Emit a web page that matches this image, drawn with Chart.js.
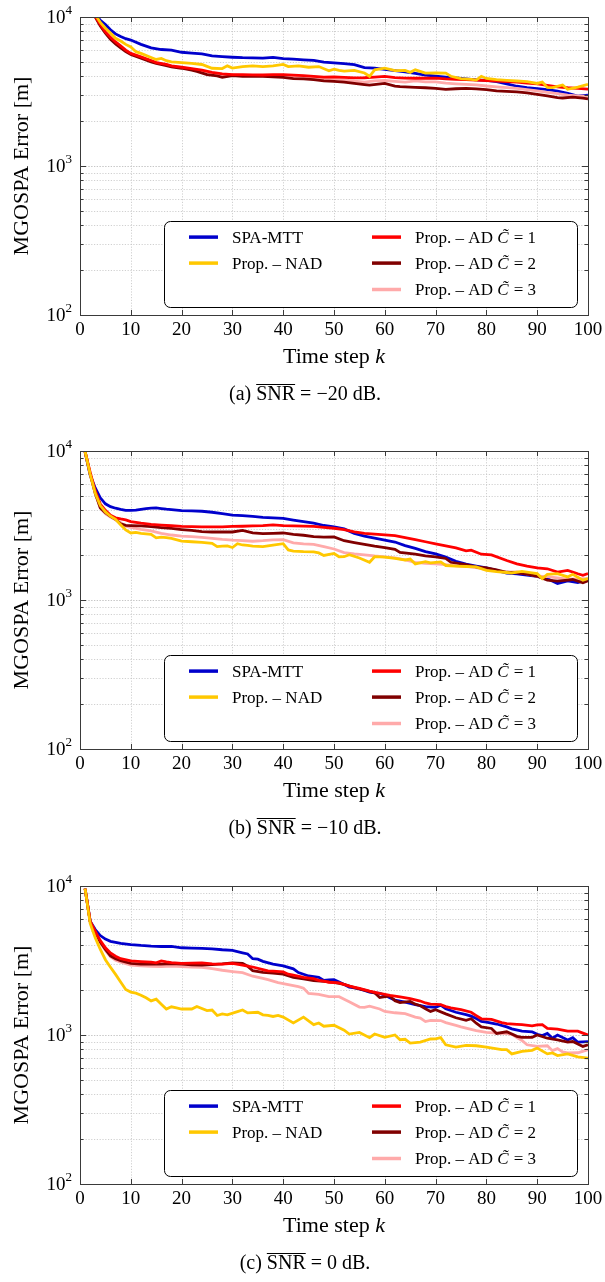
<!DOCTYPE html>
<html>
<head>
<meta charset="utf-8">
<script src="https://cdn.jsdelivr.net/npm/chart.js@4.4.1/dist/chart.umd.min.js"></script>
<style>
  html, body { margin: 0; padding: 0; background: #fff; }
  body { width: 605px; height: 1282px; position: relative; overflow: hidden; }
  canvas { position: absolute; left: 0; }
</style>
</head>
<body>
<canvas id="panelA" width="605" height="435" style="top:0px"></canvas>
<canvas id="panelB" width="605" height="435" style="top:434px"></canvas>
<canvas id="panelC" width="605" height="435" style="top:869px"></canvas>
<script>
// ---- axes / labels ----
const xTicks = [0, 10, 20, 30, 40, 50, 60, 70, 80, 90, 100];
const yDecades = [2, 3, 4];          // 10^2 .. 10^4
const seriesNames = ['SPA-MTT', 'Prop. \u2013 NAD', 'Prop. \u2013 AD', 'Prop. \u2013 AD', 'Prop. \u2013 AD'];
const seriesCval = [null, null, 1, 2, 3];
const seriesColors = ['#0000cc', '#ffc800', '#ff0000', '#800000', '#ffaaaa'];
const seriesOrder = [4, 0, 1, 2, 3]; // lower order drawn on top
const panelLetters = ['a', 'b', 'c'];
const panelSnr = ['\u221220', '\u221210', '0'];

// ---- panel (a): SNR = -20 dB, [k, error] ----
const A_SPA = [[1,16000],[2,13000],[3,10500],[4,9500],[5,8900],[6,8200],[7,7700],[8,7400],[9,7150],[10,7000],[12,6550],[14,6200],[16,6050],[18,6000],[20,5800],[22,5720],[24,5650],[26,5480],[28,5420],[30,5370],[32,5330],[34,5310],[36,5290],[38,5350],[40,5250],[42,5210],[44,5160],[46,5110],[48,4985],[50,4920],[52,4860],[54,4790],[56,4580],[58,4540],[60,4450],[62,4360],[64,4280],[66,4180],[68,4080],[70,4010],[72,3950],[74,3900],[76,3840],[78,3790],[80,3750],[82,3680],[84,3560],[86,3430],[88,3360],[90,3310],[92,3250],[94,3180],[96,3070],[98,2940],[100,2990]];
const A_NAD = [[1,16000],[2,13000],[3,10400],[4,9200],[5,8400],[6,7800],[7,7200],[8,6900],[9,6550],[10,6300],[11,5850],[12,5700],[14,5350],[15,5190],[16,5270],[17,5090],[18,5000],[20,4940],[22,4880],[24,4800],[26,4530],[28,4510],[29,4700],[30,4540],[32,4640],[34,4700],[36,4650],[38,4700],[40,4810],[41,4650],[43,4700],[45,4600],[47,4650],[49,4360],[50,4470],[51,4380],[52,4330],[54,4380],[56,4210],[57,4000],[58,4420],[60,4530],[62,4360],[64,4380],[65,4250],[66,4420],[68,4200],[70,4210],[72,4200],[73,4000],[75,3860],[77,3810],[78,3770],[79,4000],[80,3870],[82,3800],[84,3760],[86,3720],[88,3680],[90,3580],[91,3660],[92,3370],[93,3360],[95,3500],[96,3270],[98,3380],[100,3530]];
const A_AD1 = [[1,16000],[2,12500],[3,10100],[4,8900],[5,7950],[6,7300],[7,6800],[8,6400],[9,6000],[10,5700],[12,5400],[14,5100],[15,4940],[17,4815],[18,4700],[20,4600],[22,4500],[24,4400],[26,4250],[28,4150],[30,4100],[32,4100],[34,4090],[36,4080],[38,4100],[40,4100],[42,4070],[44,4040],[46,4000],[48,3950],[50,3960],[52,3930],[54,3900],[56,3910],[58,3950],[60,4000],[62,3920],[64,3890],[66,3880],[68,3880],[70,3890],[72,3840],[74,3820],[76,3800],[78,3770],[80,3740],[82,3710],[84,3680],[86,3650],[88,3600],[90,3560],[92,3480],[94,3400],[96,3350],[98,3320],[100,3280]];
const A_AD2 = [[1,16000],[2,12500],[3,10000],[4,8700],[5,7800],[6,7100],[7,6600],[8,6200],[9,5850],[10,5600],[12,5300],[14,5000],[15,4880],[17,4720],[18,4620],[20,4530],[22,4400],[23,4310],[25,4100],[27,4020],[28,3940],[30,4040],[32,4000],[34,4000],[36,4000],[38,3970],[40,3940],[42,3860],[44,3840],[46,3800],[48,3730],[50,3700],[52,3650],[54,3580],[56,3520],[57,3495],[60,3580],[62,3440],[63,3410],[66,3375],[68,3350],[70,3320],[72,3270],[74,3300],[76,3320],[78,3290],[80,3260],[82,3190],[84,3170],[86,3145],[88,3100],[90,3030],[92,2960],[94,2880],[95,2860],[97,2900],[99,2850],[100,2820]];
const A_AD3 = [[1,16000],[2,12500],[3,10050],[4,8800],[5,7900],[6,7200],[7,6700],[8,6300],[9,5950],[10,5650],[12,5350],[14,5050],[16,4850],[18,4680],[20,4570],[22,4460],[24,4300],[26,4150],[28,4080],[30,4080],[32,4060],[34,4050],[36,4020],[38,4000],[40,4050],[42,3950],[44,3920],[46,3880],[48,3806],[50,3864],[52,3787],[54,3711],[56,3656],[58,3730],[60,3749],[62,3700],[64,3656],[66,3730],[68,3674],[70,3674],[72,3600],[74,3560],[76,3530],[78,3500],[80,3443],[82,3400],[84,3358],[86,3320],[88,3260],[90,3193],[92,3120],[94,3060],[96,2990],[98,2950],[100,2932]];

// ---- panel (b): SNR = -10 dB ----
const B_SPA = [[1,9800],[2,6900],[3,5650],[4,4850],[5,4420],[6,4230],[7,4130],[8,4060],[9,4000],[10,4000],[11,4010],[12,4060],[13,4110],[14,4130],[15,4150],[16,4110],[17,4070],[18,4040],[20,3985],[22,3960],[24,3940],[26,3880],[28,3800],[30,3714],[32,3680],[34,3640],[36,3590],[38,3560],[40,3530],[42,3440],[44,3360],[46,3275],[48,3162],[50,3100],[52,3000],[54,2800],[56,2680],[58,2600],[60,2520],[62,2450],[64,2320],[66,2220],[68,2110],[70,2040],[72,1940],[74,1820],[76,1740],[78,1690],[80,1645],[82,1580],[84,1515],[86,1495],[88,1470],[90,1443],[92,1390],[94,1292],[96,1345],[98,1310],[100,1372]];
const B_NAD = [[1,9900],[2,7000],[3,5200],[4,4300],[5,3900],[6,3650],[7,3480],[8,3200],[9,2950],[10,2817],[11,2845],[12,2800],[13,2780],[14,2760],[15,2612],[16,2640],[17,2620],[18,2590],[20,2484],[22,2460],[24,2440],[26,2400],[27,2280],[28,2300],[29,2303],[30,2250],[31,2386],[32,2340],[33,2327],[34,2300],[36,2280],[38,2339],[40,2386],[41,2169],[42,2130],[44,2110],[46,2104],[47,2070],[48,1990],[50,2052],[51,1950],[52,1952],[53,2012],[55,1913],[57,1791],[58,1952],[60,1940],[62,1900],[64,1856],[65,1884],[66,1747],[68,1809],[69,1773],[71,1800],[72,1704],[74,1690],[76,1678],[78,1670],[80,1580],[82,1550],[84,1530],[85,1518],[87,1556],[89,1520],[90,1503],[91,1393],[92,1488],[94,1503],[96,1429],[97,1488],[99,1359],[100,1393]];
const B_AD1 = [[1,9900],[2,7200],[3,5400],[4,4400],[5,4000],[6,3700],[7,3560],[8,3500],[9,3450],[10,3360],[12,3280],[14,3220],[16,3180],[18,3150],[20,3120],[22,3105],[24,3100],[26,3100],[28,3100],[30,3115],[32,3125],[34,3140],[36,3160],[38,3195],[40,3160],[42,3140],[44,3130],[46,3115],[48,3070],[50,3030],[52,2970],[54,2870],[56,2800],[58,2770],[60,2740],[62,2700],[64,2620],[66,2540],[68,2460],[70,2380],[72,2310],[74,2240],[76,2140],[77,2160],[79,2030],[81,2010],[84,1840],[86,1750],[88,1690],[90,1645],[92,1620],[94,1540],[96,1580],[98,1500],[99,1466],[100,1503]];
const B_AD2 = [[1,9900],[2,7000],[3,5200],[4,4150],[5,3850],[6,3650],[7,3480],[8,3250],[9,3170],[10,3160],[12,3140],[14,3110],[16,3060],[18,3020],[20,2970],[22,2930],[24,2880],[26,2860],[28,2860],[30,2860],[32,2930],[34,2817],[36,2790],[38,2800],[40,2817],[42,2760],[44,2720],[46,2665],[48,2640],[50,2650],[52,2500],[54,2430],[56,2360],[58,2300],[60,2250],[62,2190],[63,2083],[66,2032],[68,1980],[70,1950],[72,1900],[73,1791],[76,1730],[78,1670],[80,1640],[82,1590],[84,1535],[86,1520],[88,1490],[90,1443],[92,1359],[94,1340],[96,1360],[97,1372],[99,1305],[100,1345]];
const B_AD3 = [[1,9900],[2,7000],[3,5200],[4,4150],[5,3800],[6,3600],[7,3450],[8,3300],[9,3130],[10,3070],[12,2980],[14,2910],[16,2800],[18,2730],[20,2680],[22,2660],[24,2630],[26,2590],[28,2550],[30,2520],[32,2500],[34,2480],[36,2500],[38,2530],[40,2540],[42,2420],[44,2380],[46,2362],[48,2280],[50,2200],[52,2083],[54,2040],[56,2010],[58,1975],[60,1950],[62,1920],[64,1860],[66,1790],[68,1760],[70,1750],[72,1730],[74,1695],[76,1680],[78,1650],[80,1600],[82,1570],[84,1540],[86,1541],[88,1500],[90,1443],[92,1435],[94,1410],[96,1380],[98,1385],[100,1393]];

// ---- panel (c): SNR = 0 dB ----
const C_SPA = [[1,9600],[2,5800],[3,5100],[4,4650],[5,4400],[6,4250],[7,4190],[8,4120],[10,4045],[12,3990],[14,3950],[16,3926],[18,3930],[20,3850],[22,3830],[24,3809],[26,3790],[28,3733],[30,3696],[32,3560],[33,3500],[34,3250],[35,3227],[36,3120],[38,2990],[40,2910],[42,2780],[43,2626],[45,2490],[47,2440],[48,2327],[49,2340],[50,2350],[51,2269],[52,2180],[53,2094],[54,2070],[55,2042],[56,1990],[57,1941],[58,1920],[59,1903],[60,1850],[61,1780],[62,1715],[63,1690],[64,1660],[66,1600],[68,1550],[70,1532],[71,1587],[72,1500],[74,1421],[76,1370],[77,1338],[78,1290],[79,1234],[80,1220],[82,1185],[84,1134],[85,1100],[87,1062],[89,1051],[90,1010],[91,990],[92,1025],[93,951],[94,1000],[96,927],[97,960],[98,895],[100,904]];
const C_NAD = [[1,9600],[2,5600],[3,4500],[4,3750],[5,3200],[6,2850],[7,2550],[8,2270],[9,2020],[10,1940],[11,1910],[12,1850],[13,1780],[14,1695],[15,1740],[16,1611],[17,1494],[18,1547],[19,1520],[20,1494],[22,1494],[23,1555],[25,1457],[26,1471],[27,1352],[28,1386],[29,1365],[31,1435],[32,1471],[33,1407],[35,1421],[36,1365],[37,1352],[38,1331],[39,1352],[40,1318],[42,1204],[44,1318],[46,1174],[47,1204],[48,1145],[50,1162],[52,1078],[53,1015],[55,1040],[57,960],[58,1015],[60,965],[62,1000],[63,930],[64,936],[65,882],[67,895],[69,940],[70,941],[71,960],[72,860],[74,830],[76,851],[78,847],[80,830],[83,797],[84,797],[85,747],[87,777],[89,789],[90,817],[92,747],[93,758],[94,728],[96,747],[98,714],[100,700]];
const C_AD1 = [[1,9600],[2,5800],[3,4950],[4,4300],[5,3850],[6,3550],[7,3380],[8,3250],[10,3146],[12,3110],[14,3080],[15,3052],[16,3146],[17,3099],[18,3060],[20,3022],[22,3040],[24,3052],[26,3000],[28,2992],[30,3022],[32,2947],[34,2860],[36,2750],[37,2692],[38,2680],[40,2650],[41,2560],[42,2520],[44,2440],[46,2390],[47,2330],[48,2300],[49,2260],[51,2235],[53,2126],[55,2052],[57,1971],[59,1903],[61,1846],[63,1800],[65,1755],[67,1690],[68,1640],[69,1611],[71,1600],[72,1550],[73,1520],[75,1479],[77,1421],[78,1350],[79,1285],[81,1272],[83,1211],[84,1192],[86,1180],[87,1175],[89,1151],[90,1170],[91,1175],[92,1106],[94,1095],[95,1080],[96,1062],[98,1062],[99,1030],[100,1000]];
const C_AD2 = [[1,9600],[2,5800],[3,4900],[4,4200],[5,3750],[6,3400],[7,3250],[8,3150],[10,3022],[12,2992],[14,2992],[16,2990],[18,3010],[20,2992],[22,2960],[24,2947],[26,2970],[28,3000],[30,3052],[32,3022],[33,2900],[34,2700],[36,2630],[38,2600],[40,2560],[42,2440],[44,2380],[46,2320],[48,2292],[50,2258],[52,2190],[54,2080],[56,2000],[58,1920],[59,1782],[61,1828],[62,1700],[63,1650],[65,1680],[66,1611],[67,1571],[68,1500],[69,1440],[70,1479],[72,1386],[74,1305],[76,1253],[77,1285],[78,1200],[79,1134],[81,1106],[82,1025],[84,1051],[86,980],[87,965],[89,965],[90,1000],[92,951],[94,927],[96,895],[97,904],[99,838],[100,860]];
const C_AD3 = [[1,9600],[2,5800],[3,4900],[4,4150],[5,3700],[6,3350],[7,3180],[8,3080],[10,2947],[12,2910],[14,2890],[16,2874],[18,2900],[20,2874],[22,2860],[24,2845],[26,2790],[28,2720],[30,2665],[32,2620],[34,2480],[36,2400],[37,2350],[39,2250],[41,2180],[43,2110],[44,2060],[45,1900],[47,1874],[49,1809],[51,1809],[52,1740],[53,1669],[55,1540],[56,1532],[57,1560],[59,1494],[60,1440],[62,1410],[64,1390],[66,1320],[67,1300],[68,1230],[69,1253],[71,1250],[72,1211],[74,1160],[75,1134],[77,1090],[78,1070],[80,1041],[82,1030],[84,1020],[85,1010],[86,960],[87,920],[88,860],[90,838],[92,847],[93,785],[94,810],[95,770],[96,758],[98,760],[100,797]];

const panelSeries = [
  [A_SPA, A_NAD, A_AD1, A_AD2, A_AD3],
  [B_SPA, B_NAD, B_AD1, B_AD2, B_AD3],
  [C_SPA, C_NAD, C_AD1, C_AD2, C_AD3]
];

const SERIF = '"Liberation Serif", "Times New Roman", "DejaVu Serif", serif';

/**
 * Draws the paper-style frame: dotted grid, inward ticks, labels, legend, caption
 */
const paperAxes = {
  id: 'paperAxes',
  beforeDatasetsDraw(chart) {
    const { ctx, chartArea: area, scales: { x, y } } = chart;
    ctx.save();
    ctx.strokeStyle = '#c4c4c4';
    ctx.lineWidth = 0.8;
    ctx.setLineDash([1.2, 1.6]);
    xTicks.forEach(v => {
      if (v === 0 || v === 100) return;
      const px = Math.round(x.getPixelForValue(v)) + 0.5;
      ctx.beginPath(); ctx.moveTo(px, area.top); ctx.lineTo(px, area.bottom); ctx.stroke();
    });
    for (let e = yDecades[0]; e < yDecades[yDecades.length - 1]; e++) {
      for (let m = 1; m <= 10; m++) {
        const py = Math.round(y.getPixelForValue(m * Math.pow(10, e))) + 0.5;
        if (py <= area.top + 1 || py >= area.bottom - 1) continue;
        ctx.beginPath(); ctx.moveTo(area.left, py); ctx.lineTo(area.right, py); ctx.stroke();
      }
    }
    ctx.restore();
  },
  afterDatasetsDraw(chart, args, opts) {
    const { ctx, chartArea: area, scales: { x, y } } = chart;
    ctx.save();
    // frame
    ctx.strokeStyle = '#3a3a3a';
    ctx.lineWidth = 1;
    ctx.strokeRect(Math.round(area.left) + 0.5, Math.round(area.top) + 0.5,
      Math.round(area.right - area.left), Math.round(area.bottom - area.top));

    // inward ticks
    ctx.beginPath();
    xTicks.forEach(v => {
      const px = Math.round(x.getPixelForValue(v)) + 0.5;
      ctx.moveTo(px, area.bottom); ctx.lineTo(px, area.bottom - 5);
      ctx.moveTo(px, area.top); ctx.lineTo(px, area.top + 5);
    });
    for (let e = yDecades[0]; e <= yDecades[yDecades.length - 1]; e++) {
      for (let m = 1; m <= 9; m++) {
        if (e === yDecades[yDecades.length - 1] && m > 1) break;
        const py = Math.round(y.getPixelForValue(m * Math.pow(10, e))) + 0.5;
        const len = m === 1 ? 6 : 3.5;
        ctx.moveTo(area.left, py); ctx.lineTo(area.left + len, py);
        ctx.moveTo(area.right, py); ctx.lineTo(area.right - len, py);
      }
    }
    ctx.stroke();

    ctx.fillStyle = '#000';
    // x tick labels
    ctx.font = '19px ' + SERIF;
    ctx.textAlign = 'center';
    ctx.textBaseline = 'middle';
    xTicks.forEach(v => ctx.fillText(String(v), x.getPixelForValue(v), area.bottom + 15));

    // y tick labels 10^n
    yDecades.forEach(e => {
      const py = y.getPixelForValue(Math.pow(10, e));
      ctx.font = '13px ' + SERIF;
      const supW = ctx.measureText(String(e)).width;
      ctx.font = '19px ' + SERIF;
      const baseW = ctx.measureText('10').width;
      const xr = area.left - 8;
      ctx.textAlign = 'left';
      ctx.fillText('10', xr - supW - baseW, py + 1);
      ctx.font = '13px ' + SERIF;
      ctx.fillText(String(e), xr - supW, py - 6);
    });

    // axis titles
    const t1 = 'Time step ';
    ctx.font = '22px ' + SERIF;
    const w1 = ctx.measureText(t1).width;
    ctx.font = 'italic 22px ' + SERIF;
    const w2 = ctx.measureText('k').width;
    const cx = (area.left + area.right) / 2;
    ctx.textAlign = 'left';
    ctx.textBaseline = 'middle';
    ctx.font = '22px ' + SERIF;
    ctx.fillText(t1, cx - (w1 + w2) / 2, area.bottom + 42);
    ctx.font = 'italic 22px ' + SERIF;
    ctx.fillText('k', cx - (w1 + w2) / 2 + w1, area.bottom + 42);

    ctx.save();
    ctx.translate(22, (area.top + area.bottom) / 2);
    ctx.rotate(-Math.PI / 2);
    ctx.textAlign = 'center';
    ctx.font = '22px ' + SERIF;
    ctx.fillText('MGOSPA Error [m]', 0, 0);
    ctx.restore();

    // caption: (a) SNR-bar = -20 dB.
    ctx.font = '20px ' + SERIF;
    const p1 = '(' + opts.letter + ') ';
    const p2 = 'SNR';
    const p3 = ' = ' + opts.snr + ' dB.';
    const wa = ctx.measureText(p1).width, wb = ctx.measureText(p2).width, wc = ctx.measureText(p3).width;
    const cx0 = 305 - (wa + wb + wc) / 2;
    const cy = area.bottom + 80;
    ctx.textAlign = 'left';
    ctx.fillText(p1, cx0, cy);
    ctx.fillText(p2, cx0 + wa, cy);
    ctx.fillText(p3, cx0 + wa + wb, cy);
    ctx.strokeStyle = '#000';
    ctx.lineWidth = 1;
    ctx.beginPath();
    ctx.moveTo(cx0 + wa, Math.round(cy - 10) - 0.5);
    ctx.lineTo(cx0 + wa + wb, Math.round(cy - 10) - 0.5);
    ctx.stroke();

    // legend
    const bx = 164, bw = 413, bh = 86;
    const by = area.bottom - 8.5 - bh;
    ctx.beginPath();
    ctx.roundRect(bx + 0.5, Math.round(by) + 0.5, bw, bh, 6);
    ctx.fillStyle = '#fff';
    ctx.fill();
    ctx.strokeStyle = '#000';
    ctx.lineWidth = 1;
    ctx.stroke();
    const rows = [by + 16.6, by + 42.6, by + 69];
    const slots = [[0, 0], [0, 1], [1, 0], [1, 1], [1, 2]];
    chart.data.datasets.forEach((ds, i) => {
      const [col, row] = slots[i];
      const ly = rows[row];
      const lx = col === 0 ? 189 : 372;
      ctx.strokeStyle = ds.borderColor;
      ctx.lineWidth = 3.5;
      ctx.beginPath(); ctx.moveTo(lx, ly); ctx.lineTo(lx + 29, ly); ctx.stroke();
      ctx.fillStyle = '#000';
      ctx.textBaseline = 'middle';
      ctx.textAlign = 'left';
      ctx.font = '17px ' + SERIF;
      let tx = lx + 43;
      ctx.fillText(ds.label, tx, ly + 1);
      if (ds.cval != null) {
        tx += ctx.measureText(ds.label + ' ').width;
        ctx.font = 'italic 17px ' + SERIF;
        const cw = ctx.measureText('C').width;
        ctx.fillText('C', tx, ly + 1);
        // tilde accent over the italic C
        ctx.textAlign = 'center';
        ctx.fillText('\u02dc', tx + cw / 2 + 2, ly - 2);
        ctx.textAlign = 'left';
        ctx.font = '17px ' + SERIF;
        ctx.fillText(' = ' + ds.cval, tx + cw + 1, ly + 1);
      }
    });
    ctx.restore();
  }
};

function makePanel(canvasId, idx) {
  const datasets = panelSeries[idx].map((pairs, i) => ({
    label: seriesNames[i],
    cval: seriesCval[i],
    data: pairs.map(([k, v]) => ({ x: k, y: v })),
    borderColor: seriesColors[i],
    backgroundColor: seriesColors[i],
    borderWidth: 2.8,
    pointRadius: 0,
    tension: 0,
    fill: false,
    order: seriesOrder[i],
    clip: 0
  }));
  return new Chart(document.getElementById(canvasId).getContext('2d'), {
    type: 'line',
    data: { datasets },
    options: {
      responsive: false,
      animation: false,
      devicePixelRatio: 1,
      layout: { padding: { left: 72, right: 17, top: 17, bottom: 112 } },
      scales: {
        x: { type: 'linear', min: 0, max: 100, ticks: { display: false }, grid: { display: false }, border: { display: false } },
        y: { type: 'logarithmic', min: 100, max: 10000, ticks: { display: false }, grid: { display: false }, border: { display: false } }
      },
      plugins: {
        legend: { display: false },
        tooltip: { enabled: false },
        paperAxes: { letter: panelLetters[idx], snr: panelSnr[idx] }
      }
    },
    plugins: [paperAxes]
  });
}

makePanel('panelA', 0);
makePanel('panelB', 1);
makePanel('panelC', 2);
</script>
</body>
</html>
